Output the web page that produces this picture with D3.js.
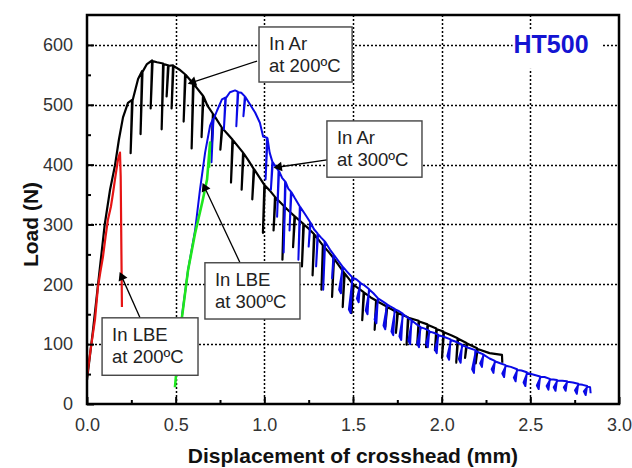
<!DOCTYPE html>
<html>
<head>
<meta charset="utf-8">
<script src="https://cdn.jsdelivr.net/npm/d3@7"></script>
<style>
  body { margin: 0; background: #fff; }
  text { font-family: "Liberation Sans", Arial, sans-serif; }
</style>
</head>
<body>
<div id="chart"></div>
<script>
// Load vs. displacement, HT500 specimens

// x ticks (mm) and y ticks (N)
var xTicks = [0, 0.5, 1.0, 1.5, 2.0, 2.5, 3.0];
var yTicks = [0, 100, 200, 300, 400, 500, 600];

// In Ar at 200 C : envelope [mm, N] and unloading drops [mm, top N, bottom N]
var arLowEnvelope = [[0, 40], [0.034, 124], [0.062, 199], [0.1, 300], [0.13, 358], [0.158, 399], [0.18, 442],
  [0.203, 479], [0.231, 503], [0.288, 543], [0.338, 568], [0.395, 571], [0.52, 559], [0.68, 498], [0.79, 452],
  [0.91, 407], [1.03, 357], [1.14, 322], [1.25, 293], [1.36, 255], [1.475, 210], [1.6, 178], [1.72, 158],
  [2.06, 114], [2.27, 85], [2.34, 82], [2.342, 69]];
var arLowDrops = [[0.254, 508, 419], [0.31, 556, 451], [0.367, 574, 494], [0.429, 569, 459], [0.457, 566, 514],
  [0.485, 566, 494], [0.553, 551, 472], [0.598, 536, 427], [0.654, 515, 446], [0.71, 485, 425], [0.76, 462, 425],
  [0.82, 442, 370], [0.88, 420, 358], [0.94, 393, 342], [1.0, 366, 286], [1.06, 346, 290], [1.11, 331, 241],
  [1.17, 314, 262], [1.22, 301, 230], [1.28, 284, 215], [1.33, 265, 191], [1.39, 244, 179], [1.45, 219, 162],
  [1.5, 200, 152], [1.56, 187, 140], [1.63, 173, 124], [1.69, 163, 129], [1.75, 153, 119], [1.81, 145, 99],
  [1.87, 139, 99], [1.92, 133, 95], [1.97, 126, 90], [2.01, 121, 77], [2.09, 110, 69], [2.14, 102, 77],
  [2.2, 93, 68]];

// In Ar at 300 C
var arHighEnvelope = [[0.535, 146], [0.57, 224], [0.61, 291], [0.637, 358], [0.666, 420], [0.694, 465],
  [0.733, 490], [0.761, 509], [0.806, 521], [0.835, 524], [0.87, 520], [0.948, 487], [0.975, 470], [0.993, 447],
  [1.03, 420], [1.06, 398], [1.1, 378], [1.135, 360], [1.17, 345], [1.228, 318], [1.28, 292], [1.32, 278],
  [1.37, 258], [1.415, 240], [1.47, 220], [1.52, 208], [1.565, 198], [1.615, 185], [1.665, 172], [1.71, 163],
  [1.76, 155], [1.81, 144], [1.855, 134], [1.905, 126], [1.955, 119], [2.015, 112], [2.08, 104], [2.15, 94],
  [2.21, 86], [2.27, 76], [2.33, 68], [2.39, 62], [2.45, 56], [2.52, 49], [2.58, 45], [2.63, 41], [2.68, 39],
  [2.74, 36], [2.795, 32], [2.837, 28], [2.84, 18]];
var arHighDrops = [[0.71, 476, 404], [0.78, 512, 459], [0.85, 522, 464], [0.89, 514, 481], [1.015, 445, 375],
  [1.045, 405, 358], [1.08, 390, 313], [1.117, 372, 253], [1.15, 355, 290], [1.2, 330, 241], [1.258, 304, 263],
  [1.3, 285, 230], [1.34, 272, 191], [1.39, 250, 210], [1.44, 230, 185], [1.495, 212, 152], [1.54, 203, 170],
  [1.59, 192, 150], [1.64, 177, 135], [1.69, 167, 125], [1.735, 159, 115], [1.78, 151, 107], [1.83, 140, 100],
  [1.88, 129, 95], [1.93, 122, 95], [1.98, 116, 85], [2.05, 108, 74], [2.115, 99, 69], [2.19, 90, 52],
  [2.235, 83, 62], [2.3, 72, 52], [2.36, 65, 45], [2.425, 58, 38], [2.48, 53, 30], [2.555, 46, 25],
  [2.61, 42, 24], [2.65, 40, 22], [2.707, 38, 22], [2.77, 34, 17], [2.82, 30, 15]];

// In LBE at 200 C and 300 C
var lbeLow = [[0, 45], [0.02, 90], [0.045, 141], [0.062, 196], [0.075, 220], [0.09, 246], [0.105, 280],
  [0.118, 308], [0.135, 330], [0.147, 353], [0.16, 380], [0.175, 409], [0.186, 420], [0.19, 380], [0.197, 162]];
var lbeHigh = [[0.496, 28], [0.515, 90], [0.536, 146], [0.57, 224], [0.61, 286], [0.65, 337], [0.677, 375],
  [0.694, 437], [0.688, 395]];

// callouts: box [x0, x1, yTop, yBottom], arrow from -> to (data units)
var notes = [
  {lines: ["In Ar", "at 200ºC"], box: [0.97, 1.495, 630, 538], from: [0.959, 573], to: [0.598, 538]},
  {lines: ["In Ar", "at 300ºC"], box: [1.353, 1.889, 473, 379], from: [1.353, 408], to: [1.083, 396]},
  {lines: ["In LBE", "at 300ºC"], box: [0.665, 1.201, 236, 142], from: [0.863, 236], to: [0.665, 361]},
  {lines: ["In LBE", "at 200ºC"], box: [0.085, 0.626, 144, 48], from: [0.299, 144], to: [0.197, 212]}
];

var margin = {top: 15, right: 13, bottom: 64, left: 87};
var width = 632 - margin.left - margin.right;
var height = 468 - margin.top - margin.bottom;

var svg = d3.select("#chart").append("svg")
  .attr("width", 632)
  .attr("height", 468)
  .append("g")
  .attr("transform", "translate(" + margin.left + "," + margin.top + ")");

var x = d3.scaleLinear().domain([0, 3]).range([0, width]);
var y = d3.scaleLinear().domain([0, 650]).range([height, 0]);

// dotted grid behind the curves, snapped to whole pixels
var grid = svg.append("g");
grid.selectAll(".gx")
  .data(xTicks.slice(1, -1))
  .enter().append("line")
  .attr("class", "gx")
  .attr("x1", function (d) { return Math.round(x(d)) + 0.5; })
  .attr("x2", function (d) { return Math.round(x(d)) + 0.5; })
  .attr("y1", 0).attr("y2", height);
grid.selectAll(".gy")
  .data(yTicks.slice(1))
  .enter().append("line")
  .attr("class", "gy")
  .attr("y1", function (d) { return Math.round(y(d)) + 0.5; })
  .attr("y2", function (d) { return Math.round(y(d)) + 0.5; })
  .attr("x1", 0).attr("x2", width);
grid.selectAll("line")
  .attr("stroke", "#000").attr("stroke-width", 1.5).attr("stroke-dasharray", "2,2");

// curves with their unloading drops merged in
function withDrops(env, drops, curlFrom) {
  var ev = env.map(function (p) { return {x: p[0], pts: [p]}; });
  drops.forEach(function (d) {
    var pts = [[d[0], d[1]], [d[0] - 0.008, d[2]]];
    if (d[0] >= curlFrom) pts.push([d[0] - 0.018, d[2] + 6]);
    pts.push([d[0] + 0.003, d[1] - 1]);
    ev.push({x: d[0], pts: pts});
  });
  ev.sort(function (a, b) { return a.x - b.x; });
  return [].concat.apply([], ev.map(function (e) { return e.pts; }));
}

var line = d3.line()
  .x(function (d) { return x(d[0]); })
  .y(function (d) { return y(d[1]); });

var series = [
  {pts: withDrops(arLowEnvelope, arLowDrops, 9), color: "#000", w: 2.2},
  {pts: withDrops(arHighEnvelope, arHighDrops, 1.4), color: "#0a0ae6", w: 2},
  {pts: lbeLow, color: "#e61414", w: 2.2},
  {pts: lbeHigh, color: "#1ee61e", w: 2.6}
];
svg.selectAll(".curve")
  .data(series)
  .enter().append("path")
  .attr("class", "curve")
  .attr("d", function (d) { return line(d.pts); })
  .attr("fill", "none")
  .attr("stroke", function (d) { return d.color; })
  .attr("stroke-width", function (d) { return d.w; })
  .attr("stroke-linejoin", "round");

// axes, ticks pointing inward
var xAxis = d3.axisBottom(x).tickValues(xTicks).tickFormat(d3.format(".1f")).tickSizeInner(-7).tickSizeOuter(0).tickPadding(14);
var yAxis = d3.axisLeft(y).tickValues(yTicks).tickFormat(d3.format("d")).tickSizeInner(-7).tickSizeOuter(0).tickPadding(14);
var xMinor = d3.axisBottom(x).tickValues(d3.range(0.25, 3, 0.5)).tickFormat("").tickSizeInner(-4).tickSizeOuter(0);
var yMinor = d3.axisLeft(y).tickValues(d3.range(50, 650, 100)).tickFormat("").tickSizeInner(-4).tickSizeOuter(0);

[xAxis, xMinor].forEach(function (a) {
  svg.append("g").attr("class", "axis").attr("transform", "translate(0," + height + ")").call(a);
});
[yAxis, yMinor].forEach(function (a) {
  svg.append("g").attr("class", "axis").call(a);
});
svg.selectAll(".axis .domain").remove();
svg.selectAll(".axis line").attr("stroke", "#000").attr("stroke-width", 2);
svg.selectAll(".axis text").attr("font-size", 18).attr("fill", "#333")
  .style("font-family", "'Liberation Sans', Arial, sans-serif");

// frame
svg.append("rect")
  .attr("width", width).attr("height", height)
  .attr("fill", "none").attr("stroke", "#000").attr("stroke-width", 2.5);

// callouts
var arrowHead = d3.symbol().type(d3.symbolTriangle).size(40);
var note = svg.selectAll(".note").data(notes).enter().append("g").attr("class", "note");
note.append("line")
  .attr("x1", function (d) { return x(d.from[0]); }).attr("y1", function (d) { return y(d.from[1]); })
  .attr("x2", function (d) { return x(d.to[0]); }).attr("y2", function (d) { return y(d.to[1]); })
  .attr("stroke", "#000").attr("stroke-width", 1.3);
note.append("path")
  .attr("d", arrowHead)
  .attr("fill", "#000")
  .attr("transform", function (d) {
    var dx = x(d.to[0]) - x(d.from[0]), dy = y(d.to[1]) - y(d.from[1]);
    var ang = Math.atan2(dy, dx) * 180 / Math.PI + 90;
    return "translate(" + x(d.to[0]) + "," + y(d.to[1]) + ") rotate(" + ang + ")";
  });
note.append("rect")
  .attr("x", function (d) { return x(d.box[0]); })
  .attr("y", function (d) { return y(d.box[2]); })
  .attr("width", function (d) { return x(d.box[1]) - x(d.box[0]); })
  .attr("height", function (d) { return y(d.box[3]) - y(d.box[2]); })
  .attr("fill", "#fff").attr("stroke", "#444").attr("stroke-width", 1.4);
note.each(function (d) {
  var g = d3.select(this);
  d.lines.forEach(function (t, i) {
    g.append("text")
      .attr("x", x(d.box[0]) + 10)
      .attr("y", y(d.box[2]) + 23 + i * 22.5)
      .attr("font-size", 18.5)
      .attr("fill", "#222")
      .text(t);
  });
});

// HT500 tag
svg.append("rect")
  .attr("x", x(2.4)).attr("y", y(625))
  .attr("width", x(2.9) - x(2.4)).attr("height", y(560) - y(625))
  .attr("fill", "#fff");
svg.append("text")
  .attr("x", x(2.617)).attr("y", y(586))
  .attr("text-anchor", "middle")
  .attr("font-size", 25).attr("font-weight", "bold")
  .attr("fill", "#1414d2")
  .text("HT500");

// axis titles
svg.append("text")
  .attr("x", width / 2).attr("y", height + 59)
  .attr("text-anchor", "middle")
  .attr("font-size", 21).attr("font-weight", "bold").attr("fill", "#111")
  .text("Displacement of crosshead (mm)");
svg.append("text")
  .attr("transform", "translate(" + (-49) + "," + (height / 2 + 15) + ") rotate(-90)")
  .attr("text-anchor", "middle")
  .attr("font-size", 21).attr("font-weight", "bold").attr("fill", "#111")
  .text("Load (N)");
</script>
</body>
</html>
